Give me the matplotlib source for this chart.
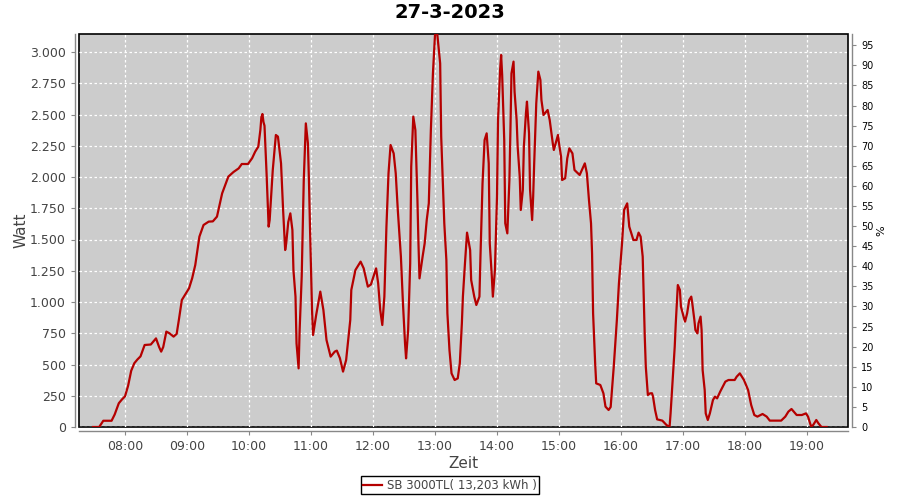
#!/usr/bin/env -S python3 -B
# Daily output of the SB 3000TL inverter on 27-3-2023, redrawn in the
# look of the original JFreeChart picture and saved as out.png.

import pandas as pd
import matplotlib
matplotlib.use("Agg")
import matplotlib.pyplot as plt
import matplotlib.dates as mdates
from matplotlib.ticker import FuncFormatter, MultipleLocator

DAY = "2023-03-27"
TITLE = "27-3-2023"
SERIES_LABEL = "SB 3000TL( 13,203 kWh )"

# readings: clock time and power in watt
times = [
    "07:29", "07:35", "07:39", "07:47", "07:50", "07:54", "07:57", "08:00", "08:03", "08:06",
    "08:09", "08:12", "08:15", "08:19", "08:25", "08:30", "08:33", "08:35", "08:37", "08:40",
    "08:43", "08:47", "08:50", "08:52", "08:55", "09:02", "09:05", "09:08", "09:12", "09:16",
    "09:21", "09:25", "09:29", "09:34", "09:40", "09:45", "09:50", "09:53", "09:59", "10:03",
    "10:06", "10:09", "10:11", "10:12", "10:13", "10:14", "10:15", "10:17", "10:19", "10:20",
    "10:23", "10:26", "10:28", "10:31", "10:33", "10:35", "10:36", "10:38", "10:40", "10:42",
    "10:43", "10:45", "10:46", "10:48", "10:49", "10:51", "10:53", "10:55", "10:57", "10:58",
    "10:59", "11:01", "11:02", "11:05", "11:09", "11:12", "11:15", "11:19", "11:23", "11:25",
    "11:28", "11:31", "11:34", "11:38", "11:39", "11:43", "11:48", "11:51", "11:55", "11:58",
    "12:03", "12:05", "12:07", "12:09", "12:11", "12:13", "12:15", "12:17", "12:20", "12:22",
    "12:24", "12:27", "12:29", "12:31", "12:32", "12:34", "12:36", "12:37", "12:39", "12:41",
    "12:43", "12:44", "12:45", "12:48", "12:50", "12:52", "12:54", "12:56", "12:58", "13:00",
    "13:02", "13:05", "13:06", "13:09", "13:11", "13:12", "13:14", "13:16", "13:19", "13:22",
    "13:24", "13:25", "13:26", "13:27", "13:29", "13:31", "13:34", "13:35", "13:38", "13:40",
    "13:43", "13:44", "13:46", "13:48", "13:50", "13:52", "13:53", "13:55", "13:56", "13:58",
    "14:00", "14:01", "14:03", "14:04", "14:05", "14:07", "14:08", "14:10", "14:12", "14:13",
    "14:14", "14:16", "14:17", "14:19", "14:20", "14:22", "14:23", "14:25", "14:26", "14:28",
    "14:29", "14:31", "14:32", "14:34", "14:35", "14:36", "14:38", "14:40", "14:42", "14:43",
    "14:45", "14:49", "14:51", "14:54", "14:55", "14:59", "15:00", "15:02", "15:03", "15:06",
    "15:08", "15:10", "15:13", "15:15", "15:20", "15:25", "15:27", "15:29", "15:31", "15:32",
    "15:33", "15:35", "15:36", "15:40", "15:43", "15:45", "15:48", "15:50", "15:53", "15:56",
    "15:58", "15:59", "16:01", "16:03", "16:06", "16:08", "16:10", "16:12", "16:15", "16:17",
    "16:19", "16:21", "16:22", "16:23", "16:24", "16:26", "16:28", "16:30", "16:31", "16:33",
    "16:35", "16:40", "16:44", "16:47", "16:48", "16:50", "16:52", "16:53", "16:55", "16:57",
    "16:58", "17:01", "17:02", "17:04", "17:06", "17:08", "17:09", "17:11", "17:12", "17:14",
    "17:15", "17:17", "17:18", "17:19", "17:21", "17:22", "17:24", "17:26", "17:29", "17:31",
    "17:33", "17:36", "17:41", "17:44", "17:50", "17:52", "17:55", "17:59", "18:03", "18:06",
    "18:09", "18:12", "18:17", "18:21", "18:24", "18:35", "18:39", "18:42", "18:45", "18:50",
    "18:55", "18:59", "19:01", "19:04", "19:06", "19:09", "19:11", "19:14", "19:19",
]
watt = [
    0, 0, 50, 50, 100, 190, 220, 245, 330, 450,
    510, 540, 565, 656, 660, 709, 640, 603, 640, 763,
    750, 723, 745, 850, 1016, 1110, 1190, 1296, 1523, 1616,
    1643, 1645, 1683, 1869, 2003, 2040, 2069, 2104, 2104, 2150,
    2203, 2243, 2376, 2480, 2504, 2440, 2410, 2029, 1603, 1656,
    2056, 2336, 2323, 2109, 1736, 1416, 1469, 1640, 1709, 1576,
    1256, 1043, 669, 469, 776, 1203, 1976, 2429, 2270, 1976,
    1603, 936, 736, 896, 1083, 936, 696, 563, 603, 611,
    550, 443, 536, 856, 1096, 1256, 1323, 1269, 1123, 1140,
    1269, 1149, 936, 816, 1043, 1603, 2029, 2256, 2189, 2029,
    1736, 1363, 989, 669, 549, 776, 1309, 2083, 2483, 2376,
    1816, 1469, 1189, 1363, 1469, 1656, 1789, 2376, 2829, 3136,
    3160, 2909, 2323, 1629, 1336, 909, 616, 429, 376, 389,
    509, 669, 829, 1043, 1309, 1555, 1416, 1176, 1043, 976,
    1043, 1363, 1949, 2296, 2349, 2109, 1469, 1203, 1043, 1256,
    1843, 2456, 2856, 2976, 2816, 2296, 1629, 1549, 1976, 2376,
    2829, 2923, 2683, 2456, 2243, 2003, 1736, 1896, 2243, 2509,
    2603, 2349, 1896, 1656, 1843, 2109, 2589, 2843, 2776, 2616,
    2496, 2536, 2456, 2269, 2216, 2336, 2269, 2163, 1976, 1990,
    2149, 2229, 2189, 2056, 2016, 2109, 2029, 1816, 1629, 1389,
    909, 509, 349, 336, 269, 163, 136, 160, 483, 856,
    1149, 1256, 1469, 1736, 1789, 1603, 1549, 1496, 1496, 1555,
    1523, 1363, 1043, 723, 483, 256, 269, 270, 243, 136,
    61, 51, 16, 0, 110, 376, 643, 829, 1136, 1096,
    963, 869, 843, 909, 1016, 1043, 989, 856, 776, 749,
    829, 883, 776, 456, 296, 109, 56, 109, 216, 243,
    229, 283, 363, 376, 376, 403, 429, 376, 296, 176,
    96, 83, 104, 83, 51, 51, 83, 123, 144, 96,
    96, 109, 83, 3, 16, 56, 30, 0, 0,
]

# axis ranges and ticks
watt_max = 3144
pct_max = 97.8
x_start = "07:15:30"
x_end = "19:39:40"

# colours of the original chart
plot_bg = "#cccccc"
line_color = "#b50000"
label_gray = "#444444"
axis_gray = "#888888"

stamps = pd.to_datetime([f"{DAY} {t}" for t in times])

fig = plt.figure(figsize=(9, 5), dpi=100)
ax = fig.add_axes([0.0878, 0.146, 0.8544, 0.786])
ax2 = ax.twinx()

ax.set_facecolor(plot_bg)
ax.patch.set_edgecolor("black")
ax.patch.set_linewidth(1.2)

ax.plot(stamps, watt, color=line_color, linewidth=1.6, label=SERIES_LABEL, zorder=3)

ax.set_xlim(pd.Timestamp(f"{DAY} {x_start}"), pd.Timestamp(f"{DAY} {x_end}"))
ax.set_ylim(0, watt_max)
ax2.set_ylim(0, pct_max)

# hourly ticks on the time axis
ax.xaxis.set_major_locator(mdates.HourLocator())
ax.xaxis.set_major_formatter(mdates.DateFormatter("%H:%M"))
ax.yaxis.set_major_locator(MultipleLocator(250))
ax.yaxis.set_major_formatter(FuncFormatter(lambda v, _: f"{int(v):,}".replace(",", ".")))
ax2.yaxis.set_major_locator(MultipleLocator(5))

ax.grid(True, color="white", linestyle=(0, (2, 2)), linewidth=0.9)
ax.set_axisbelow(True)

# JFreeChart-style axis lines sitting a few pixels away from the plot box
for a in (ax, ax2):
    a.spines["top"].set_visible(False)
    for side in ("left", "right", "bottom"):
        a.spines[side].set_position(("outward", 3))
        a.spines[side].set_color(axis_gray)
        a.spines[side].set_linewidth(1.0)
ax.spines["right"].set_visible(False)
ax2.spines["left"].set_visible(False)
ax2.spines["bottom"].set_visible(False)

ax.tick_params(axis="both", colors=axis_gray, labelcolor=label_gray, labelsize=9,
               length=3, width=0.8)
ax2.tick_params(axis="y", colors=axis_gray, labelcolor="black", labelsize=7,
                length=3, width=0.8)

ax.set_xlabel("Zeit", fontsize=11, color=label_gray, labelpad=2)
ax.set_ylabel("Watt", fontsize=11, color=label_gray, labelpad=1)
ax2.set_ylabel("%", fontsize=8, color="black", labelpad=2)

fig.text(0.5, 0.974, TITLE, ha="center", va="center", fontsize=14, fontweight="bold")

fig.legend(loc="lower center", bbox_to_anchor=(0.5, 0.0), fontsize=8.5, frameon=True,
           fancybox=False, edgecolor="black", framealpha=1, handlelength=1.6,
           handletextpad=0.4, borderpad=0.2, labelcolor=label_gray)

fig.savefig("out.png", dpi=100)
plt.close(fig)
